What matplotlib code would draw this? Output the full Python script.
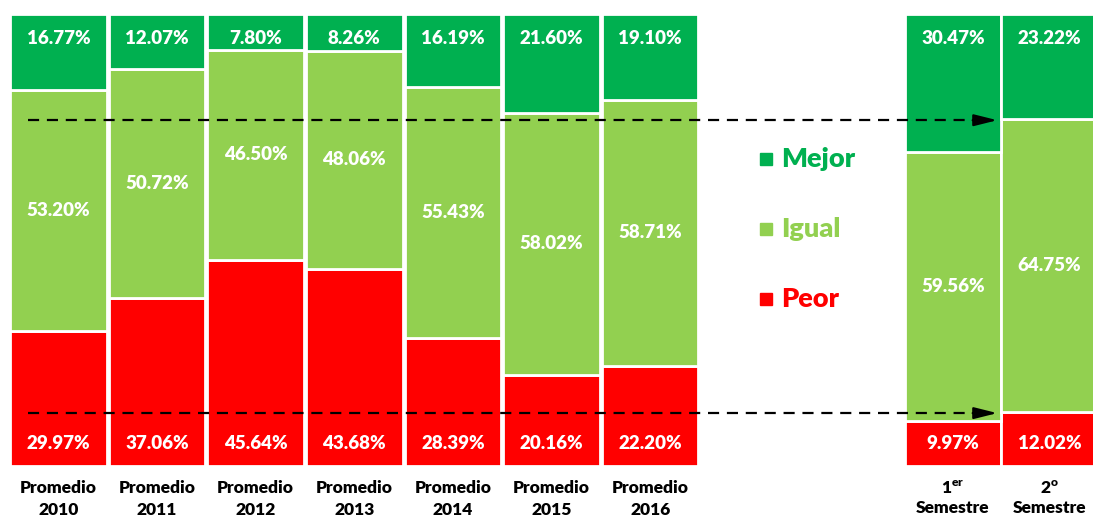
import numpy as np
import matplotlib.pyplot as plt

plt.rcParams['font.family'] = ['Lato', 'DejaVu Sans']

categories = ["Promedio\n2010", "Promedio\n2011", "Promedio\n2012", "Promedio\n2013",
              "Promedio\n2014", "Promedio\n2015", "Promedio\n2016",
              "1$^{\\mathregular{er}}$\nSemestre", "2$^{\\mathregular{o}}$\nSemestre"]
mejor = [16.77, 12.07, 7.80, 8.26, 16.19, 21.60, 19.10, 30.47, 23.22]
igual = [53.20, 50.72, 46.50, 48.06, 55.43, 58.02, 58.71, 59.56, 64.75]
peor = [29.97, 37.06, 45.64, 43.68, 28.39, 20.16, 22.20, 9.97, 12.02]
arrow_levels = [76.5, 11.7]

c_mejor = "#00B050"
c_igual = "#92D050"
c_peor = "#FF0000"

fig = plt.figure(figsize=(10.93, 5.21), dpi=100)
ax = fig.add_axes([10 / 1093, 55 / 521, 1083 / 1093, 452 / 521])

x = np.array([0, 1, 2, 3, 4, 5, 6, 9.07, 10.05])
w = 0.98
peor_a = np.array(peor)
igual_a = np.array(igual)
mejor_top = 100 - peor_a - igual_a  # fill remainder so all bars reach 100

ax.bar(x, peor_a, w, color=c_peor, edgecolor="white", linewidth=2)
ax.bar(x, igual_a, w, bottom=peor_a, color=c_igual, edgecolor="white", linewidth=2)
ax.bar(x, mejor_top, w, bottom=peor_a + igual_a, color=c_mejor, edgecolor="white", linewidth=2)

lab = dict(ha="center", va="center", color="white", fontsize=13.5, fontweight="heavy")
for i in range(len(x)):
    ax.text(x[i], 100 - 5.5, f"{mejor[i]:.2f}%", **lab)
    ax.text(x[i], peor[i] + igual[i] / 2, f"{igual[i]:.2f}%", **lab)
    ax.text(x[i], 5.0, f"{peor[i]:.2f}%", **lab)

# dashed arrows
x0, x1 = -0.31, 9.52
for lvl in arrow_levels:
    ax.plot([x0, x1 - 0.2], [lvl, lvl], color="black", linestyle=(0, (5, 3.5)),
            linewidth=1.6, zorder=5)
    ax.annotate("", xy=(x1, lvl), xytext=(x1 - 0.25, lvl),
                arrowprops=dict(arrowstyle="-|>,head_length=1.4,head_width=0.35",
                                color="black", lw=1.6, shrinkA=0, shrinkB=0), zorder=6)

# legend
leg_items = [("Mejor", c_mejor, 68.0), ("Igual", c_igual, 52.4), ("Peor", c_peor, 37.0)]
for name, col, yy in leg_items:
    ax.plot(7.17, yy, marker="s", markersize=9, color=col, linestyle="none")
    ax.text(7.33, yy, name, color=col, fontsize=19.5, fontweight="heavy", va="center", ha="left")

ax.set_xlim(-0.49, 10.49)
ax.set_ylim(0, 100)
ax.set_xticks(x)
ax.set_xticklabels(categories, fontsize=12.5, fontweight="heavy", linespacing=1.45)
ax.tick_params(axis="x", length=0, pad=10)
for t in ax.get_xticklabels()[-2:]:
    t.set_linespacing(1.2)
ax.set_yticks([])
for s in ax.spines.values():
    s.set_visible(False)

fig.savefig("out.png", dpi=100)
